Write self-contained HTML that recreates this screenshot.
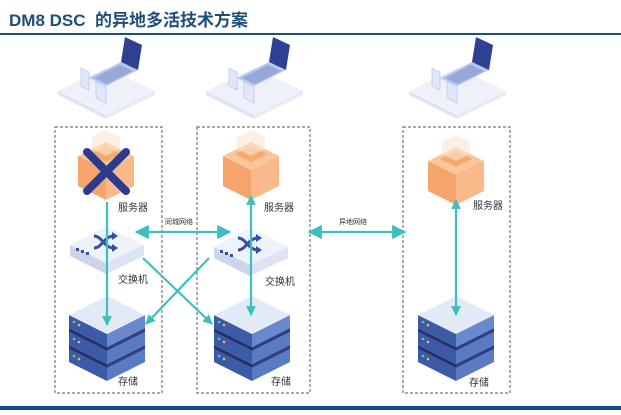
<!DOCTYPE html>
<html><head><meta charset="utf-8"><style>
body{margin:0;background:#fff;width:621px;height:415px;overflow:hidden}
svg{display:block}
</style></head><body>
<svg width="621" height="415" viewBox="0 0 621 415" xmlns="http://www.w3.org/2000/svg" font-family="Liberation Sans, Noto Sans CJK SC, sans-serif">
<defs>
<g id="lap">
 <polygon points="0,-24 49,-1 0,23 -48,-1" fill="#eef0fa"/>
 <polygon points="-48,-1 0,23 0,27 -48,3" fill="#dfe3f3"/>
 <polygon points="0,23 49,-1 49,3 0,27" fill="#e8ebf7"/>
 <polygon points="-17,-14 15,-30 32,-22 0,-6" fill="#b8c6ea"/>
 <polygon points="-12,-14 14,-27 27,-21 1,-8" fill="#7f93cf" opacity=".6"/>
 <polygon points="15,-30 32,-22 36,-47 19,-55" fill="#2f3f93"/>
 <polygon points="-25,-24 -17,-20 -17,-2 -25,-6" fill="#dfe7f8" stroke="#b0bde0" stroke-width=".6"/>
 <polygon points="-10,-10 0,-5 0,11 -10,6" fill="#dfe7f8" stroke="#b0bde0" stroke-width=".6"/>
</g>
<g id="cube">
 <polygon points="0,-29 28,-15 0,-1 -28,-15" fill="#f9c69b"/>
 <polygon points="0,-25 16,-17 0,-9 -16,-17" fill="#f6a86e"/>
 <polygon points="-28,-15 0,-1 0,29 -28,15" fill="#f5a46c"/>
 <polygon points="0,-1 28,-15 28,15 0,29" fill="#f9b98a"/>
 <polygon points="-14,-34 0,-41 14,-34 14,-22 0,-15 -14,-22" fill="#fde4cf" opacity=".6"/>
</g>
<g id="sw">
 <polygon points="0,-20 38,-1 0,17 -36,-1" fill="#eef2fb"/>
 <polygon points="-36,-1 0,17 0,28 -36,10" fill="#cdd5ea"/>
 <polygon points="0,17 38,-1 38,10 0,28" fill="#dde3f3"/>
 <rect x="-30" y="2" width="3" height="3" fill="#3b4fa0"/><rect x="-25" y="4" width="3" height="3" fill="#3b4fa0"/><rect x="-20" y="6" width="3" height="3" fill="#3b4fa0"/>
 <path d="M-12,-10 C-4,-10 -2,2 8,2 M-12,2 C-4,2 -2,-10 8,-10" stroke="#3b4fa0" stroke-width="3" fill="none"/>
 <path d="M6,-14 L12,-10 L6,-6 Z M6,-2 L12,2 L6,6 Z" fill="#3b4fa0"/>
</g>
<g id="st">
 <polygon points="-38,12 0,31 0,44 -38,25" fill="#3c5aa8"/><polygon points="0,31 38,12 38,25 0,44" fill="#5a7bc4"/>
 <polygon points="-38,8 0,27 0,31 -38,12" fill="#26336e"/><polygon points="0,27 38,8 38,12 0,31" fill="#2f3f86"/>
 <polygon points="-38,-5 0,14 0,27 -38,8" fill="#3c5aa8"/><polygon points="0,14 38,-5 38,8 0,27" fill="#5a7bc4"/>
 <polygon points="-38,-9 0,10 0,14 -38,-5" fill="#26336e"/><polygon points="0,10 38,-9 38,-5 0,14" fill="#2f3f86"/>
 <polygon points="-38,-22 0,-3 0,10 -38,-9" fill="#3c5aa8"/><polygon points="0,-3 38,-22 38,-9 0,10" fill="#6a88cc"/>
 <polygon points="0,-41 38,-22 0,-3 -38,-22" fill="#e3eaf7"/>
 <circle cx="-33" cy="-15" r="1.3" fill="#5fd17a"/><circle cx="-28" cy="-12" r="1.3" fill="#f2b84b"/>
 <circle cx="-33" cy="2" r="1.3" fill="#5fd17a"/><circle cx="-28" cy="5" r="1.3" fill="#f2b84b"/>
 <circle cx="-33" cy="19" r="1.3" fill="#5fd17a"/><circle cx="-28" cy="22" r="1.3" fill="#f2b84b"/>
</g>
<marker id="ah" viewBox="0 0 10 10" refX="9" refY="5" markerWidth="4.5" markerHeight="4.5" orient="auto-start-reverse"><path d="M0,0 L10,5 L0,10 Z" fill="#3dbfbf"/></marker>
<marker id="ab" viewBox="0 0 10 10" refX="9" refY="5" markerWidth="6.5" markerHeight="6.5" orient="auto-start-reverse"><path d="M0,0 L10,5 L0,10 Z" fill="#3dbfbf"/></marker>
</defs>
<text x="9" y="26" font-size="17" font-weight="bold" fill="#1f4e79" xml:space="preserve">DM8 DSC  的异地多活技术方案</text>
<rect x="0" y="33" width="621" height="2" fill="#1f4e79"/>
<rect x="0" y="406" width="621" height="4" fill="#0e4d8a"/>
<g fill="none" stroke="#777" stroke-width="1.2" stroke-dasharray="3,2">
 <rect x="55" y="127" width="107" height="266"/>
 <rect x="197" y="127" width="113" height="266"/>
 <rect x="403" y="127" width="107" height="266"/>
</g>
<use href="#lap" transform="translate(106,92)"/>
<use href="#lap" transform="translate(254,92)"/>
<use href="#lap" transform="translate(457,92)"/>
<use href="#cube" transform="translate(106,171)"/>
<use href="#cube" transform="translate(251,171)"/>
<use href="#cube" transform="translate(456,176)"/>
<use href="#sw" transform="translate(106,246)"/>
<use href="#sw" transform="translate(250,248)"/>
<use href="#st" transform="translate(107,337)"/>
<use href="#st" transform="translate(252,337)"/>
<use href="#st" transform="translate(456,337)"/>
<path d="M87,152 L126,191 M126,152 L87,191" stroke="#2e3a8c" stroke-width="8" stroke-linecap="round"/>
<g font-size="10" fill="#333">
 <text x="118" y="211">服务器</text><text x="264" y="211">服务器</text><text x="473" y="209">服务器</text>
 <text x="118" y="283">交换机</text><text x="265" y="285">交换机</text>
 <text x="118" y="385">存储</text><text x="271" y="385">存储</text><text x="469" y="386">存储</text>
</g>
<g font-size="7" fill="#333"><text x="165" y="224">同城网络</text><text x="339" y="224">异地网络</text></g>
<g stroke="#3dbfbf" stroke-width="2.2" fill="none">
 <line x1="107" y1="202" x2="107" y2="325" marker-end="url(#ah)"/>
 <line x1="251" y1="196" x2="251" y2="315" marker-start="url(#ah)" marker-end="url(#ah)"/>
 <line x1="456" y1="200" x2="456" y2="315" marker-start="url(#ah)" marker-end="url(#ah)"/>
 <line x1="136" y1="232" x2="230" y2="232" marker-start="url(#ab)" marker-end="url(#ab)"/>
 <line x1="309" y1="232" x2="405" y2="232" marker-start="url(#ab)" marker-end="url(#ab)"/>
 <line x1="143" y1="258" x2="212" y2="324" marker-end="url(#ah)"/>
 <line x1="209" y1="258" x2="146" y2="324" marker-end="url(#ah)"/>
</g>
</svg>
</body></html>
